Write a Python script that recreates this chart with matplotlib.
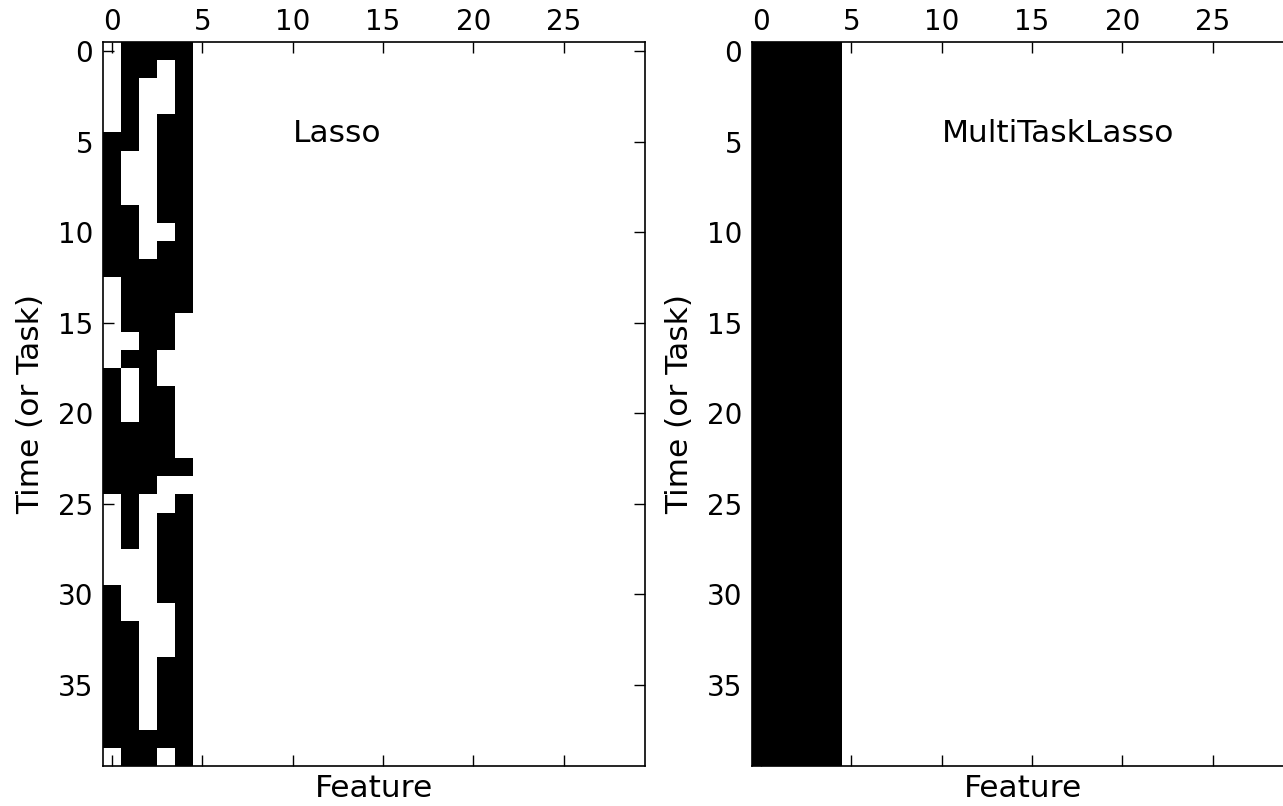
import numpy as np
import matplotlib
matplotlib.use("Agg")
import matplotlib.pyplot as plt

n_tasks = 40
n_features = 30

# Non-zero pattern of the first 5 features of the Lasso coefficients (rows = time/task)
lasso_rows = [
    "01111", "01101", "01001", "01001", "01011",
    "11011", "10011", "10011", "10011", "11011",
    "11001", "11011", "11111", "01111", "01111",
    "01110", "00110", "01100", "10100", "10110",
    "10110", "11110", "11110", "11111", "11100",
    "01001", "01011", "01011", "00011", "00011",
    "10011", "10001", "11001", "11001", "11011",
    "11011", "11011", "11011", "11111", "01101",
]
# MultiTaskLasso: the first 5 features are non-zero for every task
mtl_rows = ["11111"] * n_tasks

xticks = [0, 5, 10, 15, 20, 25]
yticks = [0, 5, 10, 15, 20, 25, 30, 35]
titles = ["Lasso", "MultiTaskLasso"]


def build(rows):
    m = np.zeros((n_tasks, n_features))
    for i, r in enumerate(rows):
        for j, c in enumerate(r):
            m[i, j] = float(c)
    return m


coef_lasso = build(lasso_rows)
coef_mtl = build(mtl_rows)

plt.rcParams['font.family'] = ['DejaVu Sans']
plt.rcParams['font.size'] = 20
label_fs = 22.5

fig = plt.figure(figsize=(12.83, 8.06), dpi=100)
fig.patch.set_facecolor('white')

W, H = 1283.0, 806.0
axw = 542 / W
axh = 724 / H
y0 = (H - 766) / H
positions = [103 / W, 752 / W]

for mat, title, x0 in zip([coef_lasso, coef_mtl], titles, positions):
    ax = fig.add_axes([x0, y0, axw, axh])
    ax.spy(mat, aspect='auto')
    ax.set_xlim(-0.5, n_features - 0.5)
    ax.set_ylim(n_tasks - 0.5, -0.5)
    ax.set_xticks(xticks)
    ax.set_yticks(yticks)
    ax.tick_params(direction='in', length=8, width=1.0,
                   top=True, bottom=True, left=True, right=True,
                   labeltop=True, labelbottom=False, labelleft=True, labelright=False)
    ax.tick_params(axis='x', pad=4)
    ax.tick_params(axis='y', pad=7)
    for s in ax.spines.values():
        s.set_linewidth(1.2)
    ax.xaxis.set_label_position('bottom')
    ax.set_xlabel('Feature', labelpad=6, fontsize=label_fs)
    ax.set_ylabel('Time (or Task)', labelpad=9, fontsize=label_fs)
    ax.text(10, 5, title, fontsize=label_fs)

fig.savefig('out.png', dpi=100, facecolor='white')
